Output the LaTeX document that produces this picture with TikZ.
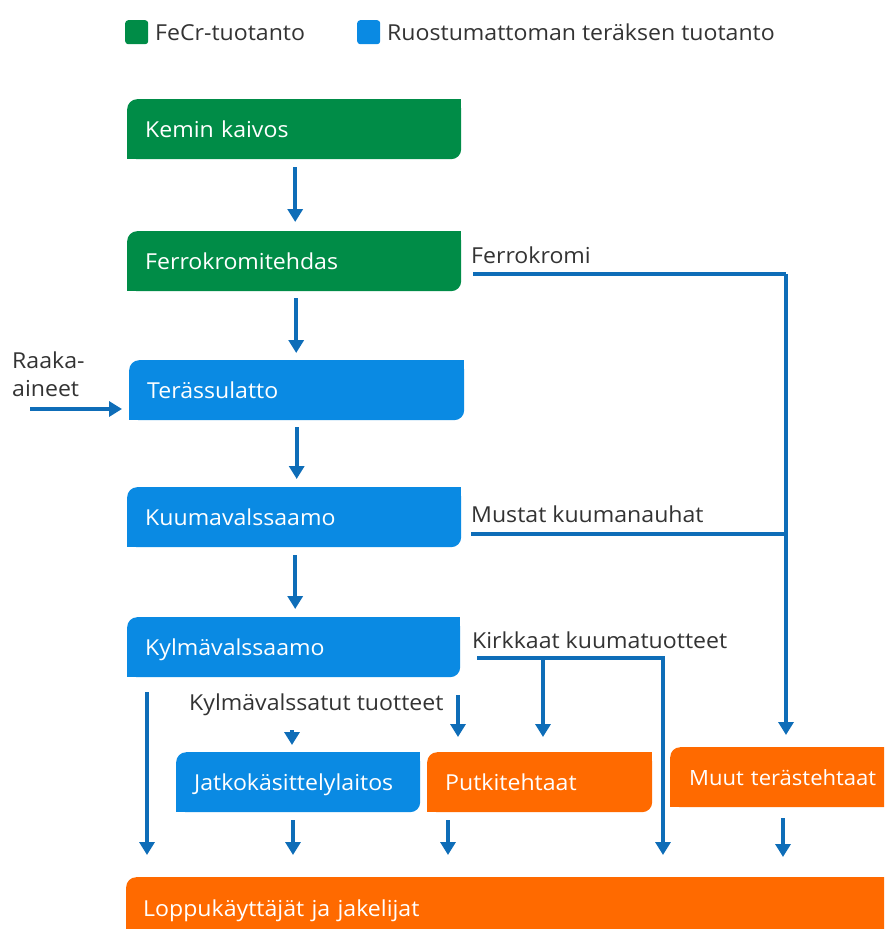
\documentclass[tikz,border=0pt]{standalone}
\usepackage{fontspec}
\setmainfont{Open Sans}[FakeStretch=1.05]
\usetikzlibrary{arrows.meta,calc}
\definecolor{cgreen}{HTML}{008C47}
\definecolor{cblue}{HTML}{0A8AE3}
\definecolor{corange}{HTML}{FF6A00}
\definecolor{carrow}{HTML}{0E6DB8}
\definecolor{ctext}{HTML}{333333}
\newcommand{\sqcorners}[2]{%
  \fill[#2] ([xshift=-10pt]#1.north east) rectangle ([yshift=-10pt]#1.north east);
  \fill[#2] ([yshift=10pt]#1.south west) rectangle ([xshift=10pt]#1.south west);}
\tikzset{
  flowbox/.style={rectangle, rounded corners=10pt, anchor=north west, inner xsep=18pt, inner ysep=0pt,
    minimum height=60pt, text height=16pt, text depth=0pt, align=left, text=white,
    font=\fontsize{22}{26}\selectfont},
  lbl/.style={anchor=base west, inner sep=0pt, text=ctext, font=\fontsize{22}{26}\selectfont},
  legsq/.style={rectangle, rounded corners=3pt, minimum width=23pt, minimum height=24pt, inner sep=0pt, anchor=north west},
  arr/.style={draw=carrow, line width=4pt, -{Triangle[width=15pt,length=13pt]}},
  ln/.style={draw=carrow, line width=4pt}
}
\begin{document}
\begin{tikzpicture}[x=1pt,y=-1pt]
\useasboundingbox (0,0) rectangle (884,929);
\clip (0,0) rectangle (884,929);
% legend
\node[legsq, fill=cgreen] (lg1) at (125,20) {};
\node[lbl] (lt1) at (155,40) {FeCr-tuotanto};
\node[legsq, fill=cblue] (lg2) at (357,20) {};
\node[lbl] (lt2) at (387,40) {Ruostumattoman teräksen tuotanto};
% boxes
\node[flowbox, fill=cgreen, text width=298pt] (kemin) at (127,99) {Kemin kaivos};
\node[flowbox, fill=cgreen, text width=298pt] (ferro) at (127,231) {Ferrokromitehdas};
\node[flowbox, fill=cblue, text width=299pt] (teras) at (129,360) {Terässulatto};
\node[flowbox, fill=cblue, text width=298pt] (kuuma) at (127,487) {Kuumavalssaamo};
\node[flowbox, fill=cblue, text width=297pt] (kylma) at (127,617) {Kylmävalssaamo};
\node[flowbox, fill=cblue, text width=208pt] (jatko) at (176,752) {Jatkokäsittelylaitos};
\node[flowbox, fill=corange, text width=189pt] (putki) at (427,752) {Putkitehtaat};
\node[flowbox, fill=corange, text width=230pt, inner xsep=19pt, font=\fontsize{21}{24}\selectfont] (muut) at (670,747) {Muut terästehtaat};
\node[flowbox, fill=corange, text width=800pt, inner xsep=17pt, text height=19pt] (loppu) at (126,877) {Loppukäyttäjät ja jakelijat};
\sqcorners{kemin}{cgreen}
\sqcorners{ferro}{cgreen}
\sqcorners{teras}{cblue}
\sqcorners{kuuma}{cblue}
\sqcorners{kylma}{cblue}
\sqcorners{jatko}{cblue}
\sqcorners{putki}{corange}
\sqcorners{muut}{corange}
\sqcorners{loppu}{corange}
% labels
\node[lbl] (rk1) at (12,368) {Raaka-};
\node[lbl] (rk2) at (12,396) {aineet};
\node[lbl] (lfe) at (471,263) {Ferrokromi};
\node[lbl] (lmu) at (471,522) {Mustat kuumanauhat};
\node[lbl] (lki) at (472,648) {Kirkkaat kuumatuotteet};
\node[lbl] (lky) at (189,710) {Kylmävalssatut tuotteet};
% main chain
\draw[arr] ([xshift=1pt,yshift=-8pt]kemin.south) -- ([xshift=1pt,yshift=9pt]kemin.south |- ferro.north);
\draw[arr] ([xshift=2pt,yshift=-7pt]ferro.south) -- ([xshift=2pt,yshift=7pt]ferro.south |- teras.north);
\draw[arr] ([yshift=-7pt]teras.south) -- ([yshift=8pt]teras.south |- kuuma.north);
\draw[arr] ([xshift=1pt,yshift=-8pt]kuuma.south) -- ([xshift=1pt,yshift=8pt]kuuma.south |- kylma.north);
% raaka-aineet
\coordinate (rin) at (30,409);
\draw[arr] (rin) -- ([xshift=-7pt]rin -| teras.west);
% ferrokromi and mustat
\coordinate (fest) at (473,274);
\coordinate (must) at (471,534);
\coordinate (fcol) at (786,274);
\draw[ln] (fest) -- (fcol);
\draw[arr] (fcol) -- ([yshift=12pt]fcol |- muut.north);
\draw[ln] (must) -- (must -| fcol);
% kirkkaat
\coordinate (kst) at (477,658);
\coordinate (kbr) at (543,658);
\coordinate (kcol) at (663,658);
\draw[arr] (kst) -- (kcol) -- ([yshift=22pt]kcol |- loppu.north);
\draw[arr] (kbr) -- ([yshift=15pt]kbr |- putki.north);
% kylmavalssatut
\coordinate (kl) at (147,692);
\draw[arr] (kl) -- ([yshift=22pt]kl |- loppu.north);
\coordinate (kv1) at (292,730);
\draw[arr] (kv1) -- ([yshift=7pt]kv1 |- jatko.north);
\coordinate (kv2) at (458,695);
\draw[arr] (kv2) -- ([yshift=15pt]kv2 |- putki.north);
% to loppu
\coordinate (j1) at (293,820);
\draw[arr] (j1) -- ([yshift=22pt]j1 |- loppu.north);
\coordinate (p1) at (448,820);
\draw[arr] (p1) -- ([yshift=22pt]p1 |- loppu.north);
\coordinate (m1) at (783,818);
\draw[arr] (m1) -- ([yshift=20pt]m1 |- loppu.north);
\end{tikzpicture}
\end{document}
